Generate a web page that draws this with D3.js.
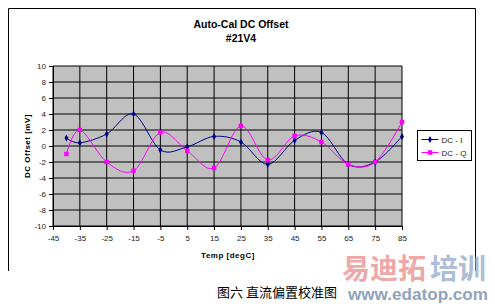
<!DOCTYPE html>
<html>
<head>
<meta charset="utf-8">
<script src="https://cdn.jsdelivr.net/npm/d3@7"></script>
<style>
  body { margin: 0; background: #fff; }
  text { font-family: Arial, "Liberation Sans", sans-serif; }
</style>
</head>
<body>
<div class="chart"></div>
<script>
// data
let temps = [-40, -35, -25, -15, -5, 5, 15, 25, 35, 45, 55, 65, 75, 85];
let dcI = [1.0, 0.4, 1.5, 4.0, -0.5, -0.1, 1.2, 0.5, -2.3, 0.7, 1.7, -2.3, -2.0, 1.2];
let dcQ = [-1.0, 2.0, -2.0, -3.1, 1.7, -0.6, -2.75, 2.5, -1.75, 1.25, 0.5, -2.3, -2.0, 3.0];
let xTicks = [-45, -35, -25, -15, -5, 5, 15, 25, 35, 45, 55, 65, 75, 85];
let yTicks = [-10, -8, -6, -4, -2, 0, 2, 4, 6, 8, 10];

let margin = { top: 66, left: 53 };
let width = 349;
let height = 160;

let svg = d3
  .select(".chart")
  .append("svg")
  .attr("width", 495)
  .attr("height", 304);

// frame (bottom edge is cut off in the original)
svg
  .append("path")
  .attr("d", "M8.5,271 V8.5 H475.5 V271")
  .style("fill", "none")
  .style("stroke", "black");

// titles
svg.append("text").attr("x", 241).attr("y", 28).attr("text-anchor", "middle")
  .style("font-size", "10.5px").style("font-weight", "bold").text("Auto-Cal DC Offset");
svg.append("text").attr("x", 241).attr("y", 42).attr("text-anchor", "middle")
  .style("font-size", "10.5px").style("font-weight", "bold").text("#21V4");

let g = svg.append("g").attr("transform", `translate(${margin.left}, ${margin.top})`);

let xScale = d3.scaleLinear().domain([-45, 85]).range([0, width]);
let yScale = d3.scaleLinear().domain([-10, 10]).range([height, 0]);

g.append("rect").attr("width", width).attr("height", height).style("fill", "#c0c0c0");

// grid
g.selectAll(".vgrid").data(xTicks).enter().append("line")
  .attr("x1", (d) => xScale(d)).attr("x2", (d) => xScale(d))
  .attr("y1", 0).attr("y2", height)
  .style("stroke", "black").style("stroke-width", 1);
g.selectAll(".hgrid").data(yTicks).enter().append("line")
  .attr("x1", 0).attr("x2", width)
  .attr("y1", (d) => yScale(d)).attr("y2", (d) => yScale(d))
  .style("stroke", "black").style("stroke-width", 1);

// axes - plain hyphen for negatives, like the original
let fmt = (d) => String(d);
let yAxis = d3.axisLeft(yScale).tickValues(yTicks).tickFormat(fmt).tickSize(4).tickPadding(3);
let yG = g.append("g").call(yAxis);
let xAxis = d3.axisBottom(xScale).tickValues(xTicks).tickFormat(fmt).tickSize(4).tickPadding(5);
let xG = g.append("g").attr("transform", `translate(0, ${height})`).call(xAxis);
[yG, xG].forEach((a) => {
  a.select(".domain").style("stroke", "black");
  a.selectAll("text").style("font-size", "8px").style("fill", "#222")
    .style("font-family", "Arial, 'Liberation Sans', sans-serif");
});

// axis titles
svg.append("text").attr("x", 228).attr("y", 258).attr("text-anchor", "middle")
  .style("font-size", "8px").style("font-weight", "bold").style("letter-spacing", "0.5px")
  .text("Temp [degC]");
svg.append("text").attr("transform", "translate(30, 146) rotate(-90)").attr("text-anchor", "middle")
  .style("font-size", "8px").style("font-weight", "bold").style("letter-spacing", "0.5px")
  .text("DC Offset [mV]");

// series
let series = [
  { name: "DC - I", values: dcI, color: "#000080", shape: d3.symbolDiamond, size: 14 },
  { name: "DC - Q", values: dcQ, color: "#ff00ff", shape: d3.symbolSquare, size: 20 },
];
let line = d3
  .line()
  .x((d) => xScale(d[0]))
  .y((d) => yScale(d[1]))
  .curve(d3.curveCatmullRom.alpha(0));

series.forEach((s) => {
  let pts = temps.map((t, i) => [t, s.values[i]]);
  g.append("path").attr("d", line(pts))
    .style("fill", "none").style("stroke", s.color).style("stroke-width", 1);
  g.selectAll(null).data(pts).enter().append("path")
    .attr("transform", (d) => `translate(${xScale(d[0])}, ${yScale(d[1])})`)
    .attr("d", d3.symbol().type(s.shape).size(s.size))
    .style("fill", s.color);
});

// legend
let leg = svg.append("g").attr("transform", "translate(417.5, 130.5)");
leg.append("rect").attr("width", 54).attr("height", 30)
  .style("fill", "white").style("stroke", "black");
series.forEach((s, i) => {
  let y = 9 + i * 13;
  leg.append("line").attr("x1", 4).attr("x2", 21).attr("y1", y).attr("y2", y)
    .style("stroke", s.color);
  leg.append("path").attr("transform", `translate(12.5, ${y})`)
    .attr("d", d3.symbol().type(s.shape).size(s.size)).style("fill", s.color);
  leg.append("text").attr("x", 24).attr("y", y + 3)
    .style("font-size", "8px").style("fill", "#222").text(s.name);
});

// caption
svg.append("text").attr("x", 217).attr("y", 297)
  .style("font-family", "'Noto Sans CJK SC', sans-serif").style("font-size", "13px")
  .text("图六 直流偏置校准图");

// watermark
svg.append("text").attr("x", 342).attr("y", 279)
  .style("font-family", "'Noto Sans CJK SC', sans-serif").style("font-size", "28px")
  .style("font-weight", "bold").style("fill", "#ec9a9a").style("opacity", 0.85)
  .text("易迪拓");
svg.append("text").attr("x", 430).attr("y", 279)
  .style("font-family", "'Noto Sans CJK SC', sans-serif").style("font-size", "28px")
  .style("font-weight", "bold").style("fill", "#9fb3cf").style("opacity", 0.85)
  .text("培训");
svg.append("text").attr("x", 348).attr("y", 300)
  .attr("textLength", 140).attr("lengthAdjust", "spacingAndGlyphs")
  .style("font-size", "16px").style("font-weight", "bold").style("fill", "#8fa3bf")
  .text("www.edatop.com");
</script>
</body>
</html>
